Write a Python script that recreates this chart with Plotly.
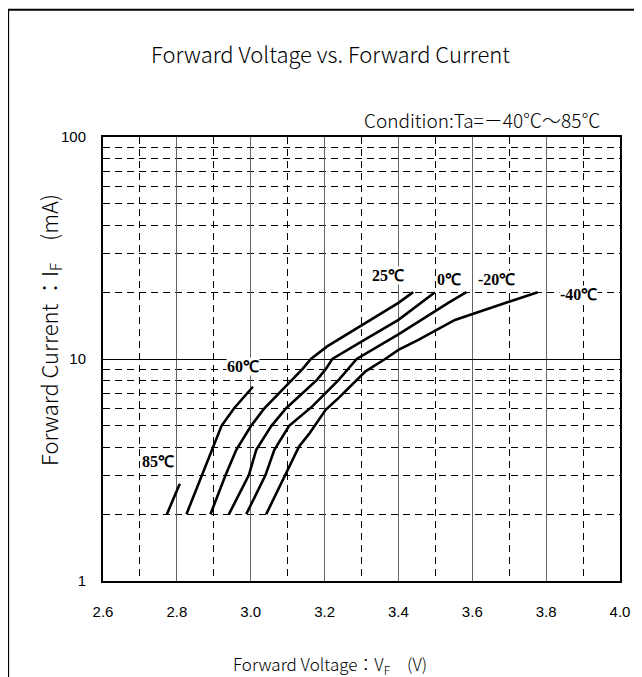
import math
import plotly.graph_objects as go

# ---- data ----
temps = ["85℃", "60℃", "25℃", "0℃", "-20℃", "-40℃"]

v_85 = [2.773, 2.808]
i_85 = [2.0, 2.74]

v_60 = [2.826, 2.858, 2.871, 2.898, 2.921, 2.955, 3.006]
i_60 = [2.0, 2.72, 3.07, 4.0, 5.0, 6.0, 7.5]

v_25 = [2.891, 2.932, 2.961, 3.001, 3.037, 3.104, 3.140, 3.163, 3.207, 3.400, 3.440]
i_25 = [2.0, 3.0, 3.9, 5.0, 6.0, 7.8, 9.0, 10.0, 11.4, 17.9, 20.0]

v_0 = [2.941, 2.995, 3.015, 3.056, 3.096, 3.180, 3.203, 3.221, 3.301, 3.400, 3.499]
i_0 = [2.0, 3.0, 3.9, 5.0, 6.0, 8.07, 9.0, 10.0, 12.0, 15.0, 20.0]

v_m20 = [2.988, 3.040, 3.064, 3.104, 3.166, 3.212, 3.239, 3.287, 3.400, 3.535, 3.584]
i_m20 = [2.0, 3.0, 3.9, 5.0, 6.1, 7.3, 8.07, 10.0, 12.9, 17.9, 20.0]

v_m40 = [3.042, 3.096, 3.131, 3.158, 3.203, 3.239, 3.311, 3.364, 3.400, 3.454, 3.553, 3.777]
i_m40 = [2.0, 3.07, 4.04, 4.6, 5.9, 6.7, 8.8, 10.0, 11.0, 12.2, 15.0, 20.0]

label_v = [2.749, 2.978, 3.373, 3.537, 3.666, 3.887]
label_i = [3.46, 9.28, 23.7, 22.8, 22.8, 19.5]

x_ticks = [2.6, 2.8, 3.0, 3.2, 3.4, 3.6, 3.8, 4.0]
x_ticktext = ["2.6", "2.8", "3.0", "3.2", "3.4", "3.6", "3.8", "4.0"]
y_ticks = [1, 10, 100]
y_ticktext = ["1", "10", "100"]

series = [(v_85, i_85), (v_60, i_60), (v_25, i_25), (v_0, i_0), (v_m20, i_m20), (v_m40, i_m40)]

JP = "Noto Sans CJK JP, Noto Sans, sans-serif"
NUM = "Liberation Sans, Arial, sans-serif"
SERIF = "Liberation Serif, Times New Roman, serif"

fig = go.Figure()
for (vx, iy), name in zip(series, temps):
    fig.add_trace(go.Scatter(x=vx, y=iy, mode="lines", name=name,
                             line=dict(color="black", width=2.6), showlegend=False,
                             hoverinfo="skip"))

for t, lv, li in zip(temps, label_v, label_i):
    fig.add_annotation(x=lv, y=math.log10(li), yref="y", xref="x", text="<b>" + t + "</b>",
                       showarrow=False, font=dict(family=SERIF, size=16, color="black"),
                       bgcolor="white", borderpad=0, xanchor="center", yanchor="middle")

# --- texts in paper coordinates ---
fig.add_annotation(x=0.44, y=1.19, xref="paper", yref="paper",
                   text="Forward Voltage vs. Forward Current", showarrow=False,
                   font=dict(family=JP, size=22, color="black", weight=300),
                   xanchor="center", yanchor="middle")
fig.add_annotation(x=0.966, y=1.039, xref="paper", yref="paper",
                   text="Condition:Ta=－40℃～85℃", showarrow=False,
                   font=dict(family=JP, size=19, color="black", weight=300),
                   xanchor="right", yanchor="middle")
fig.add_annotation(x=0.44, y=-0.188, xref="paper", yref="paper",
                   text="Forward Voltage：V<sub>F</sub>　(V)", showarrow=False,
                   font=dict(family=JP, size=17, color="black", weight=300),
                   xanchor="center", yanchor="middle")
fig.add_annotation(x=-0.104, y=0.566, xref="paper", yref="paper",
                   text="Forward Current ：I<sub>F</sub>　(mA)", showarrow=False,
                   textangle=-90,
                   font=dict(family=JP, size=22, color="black", weight=300),
                   xanchor="center", yanchor="middle")

# outer frame
fig.add_shape(type="rect", xref="paper", yref="paper",
              x0=-0.1835, x1=1.0305, y0=-0.26, y1=1.2867,
              line=dict(color="black", width=2), fillcolor="rgba(0,0,0,0)", layer="below")

fig.update_xaxes(range=[2.6, 4.0], tickvals=x_ticks, ticktext=x_ticktext,
                 showgrid=True, gridcolor="#666666", gridwidth=1,
                 minor=dict(dtick=0.1, tick0=2.6, showgrid=True, gridcolor="black",
                            gridwidth=1, griddash="7px,5px"),
                 showline=True, linecolor="black", linewidth=2, mirror=True,
                 ticks="", zeroline=False, ticklabelstandoff=16,
                 tickfont=dict(family=NUM, size=15, color="black"))
fig.update_yaxes(type="log", range=[0, 2], tickvals=y_ticks, ticktext=y_ticktext,
                 showgrid=True, gridcolor="black", gridwidth=1,
                 minor=dict(dtick="D1", showgrid=True, gridcolor="black",
                            gridwidth=1, griddash="7px,5px"),
                 showline=True, linecolor="black", linewidth=2, mirror=True,
                 ticks="", zeroline=False, ticklabelstandoff=12,
                 tickfont=dict(family=NUM, size=15, color="black"))

fig.update_layout(width=634, height=669,
                  margin=dict(l=94.5, r=19, t=129, b=96),
                  paper_bgcolor="white", plot_bgcolor="white")

fig.write_html("out.html")
